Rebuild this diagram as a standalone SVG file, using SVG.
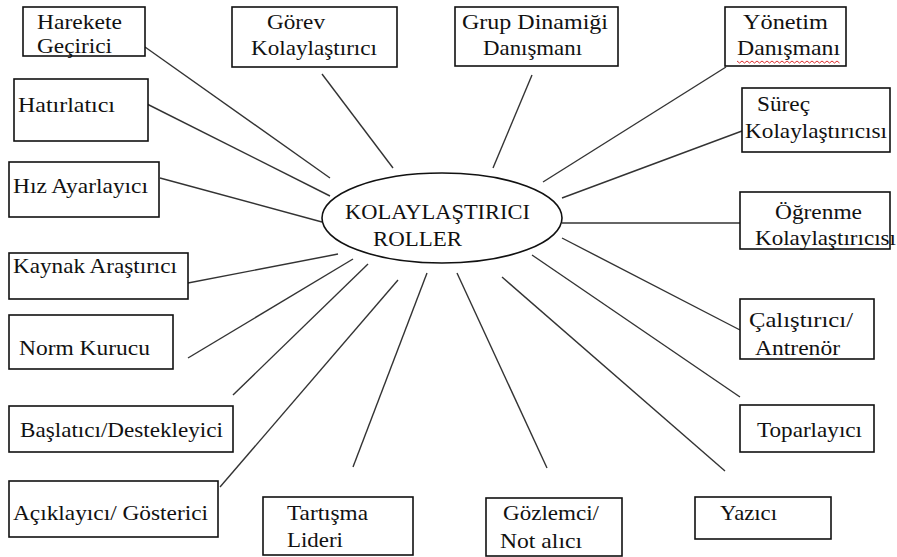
<svg xmlns="http://www.w3.org/2000/svg" width="897" height="557" viewBox="0 0 897 557" font-family="'Liberation Serif', 'DejaVu Serif', 'Times New Roman', serif">
<style>
.box{fill:#fff;stroke:#111;stroke-width:1.6}
.t{font-family:'Liberation Serif','DejaVu Serif',serif;font-size:22px;fill:#111}
.c{stroke:#333;stroke-width:1.4;fill:none}
</style>
<rect width="897" height="557" fill="#fff"/>
<g id="connectors">
<line class="c" x1="145" y1="47" x2="330" y2="178"/>
<line class="c" x1="145" y1="103" x2="330" y2="196"/>
<line class="c" x1="322" y1="74" x2="393" y2="168"/>
<line class="c" x1="160" y1="178" x2="322" y2="222"/>
<line class="c" x1="188" y1="283" x2="338" y2="254"/>
<line class="c" x1="188" y1="358" x2="353" y2="259"/>
<line class="c" x1="233" y1="395" x2="368" y2="264"/>
<line class="c" x1="220" y1="487" x2="398" y2="280"/>
<line class="c" x1="353" y1="467" x2="427" y2="273"/>
<line class="c" x1="547" y1="468" x2="457" y2="273"/>
<line class="c" x1="725" y1="471" x2="502" y2="277"/>
<line class="c" x1="740" y1="397" x2="532" y2="255"/>
<line class="c" x1="740" y1="330" x2="562" y2="238"/>
<line class="c" x1="562" y1="223" x2="740" y2="223"/>
<line class="c" x1="562" y1="198" x2="742" y2="131"/>
<line class="c" x1="726" y1="67" x2="543" y2="182"/>
<line class="c" x1="532" y1="75" x2="493" y2="168"/>
</g>
<g id="center">
<ellipse cx="442" cy="218" rx="120" ry="45" fill="#fff" stroke="#111" stroke-width="1.6"/>
<text class="t" x="345" y="219" textLength="185" lengthAdjust="spacingAndGlyphs">KOLAYLAŞTIRICI</text>
<text class="t" x="373" y="246" textLength="89" lengthAdjust="spacingAndGlyphs">ROLLER</text>
</g>
<g id="harekete">
<rect class="box" x="23" y="7" width="122" height="49"/>
<text class="t" x="37" y="29" textLength="85" lengthAdjust="spacingAndGlyphs">Harekete</text>
<text class="t" x="37" y="53" textLength="75" lengthAdjust="spacingAndGlyphs">Geçirici</text>
</g>
<g id="gorev">
<rect class="box" x="232" y="7" width="165" height="60"/>
<text class="t" x="267" y="29" textLength="58" lengthAdjust="spacingAndGlyphs">Görev</text>
<text class="t" x="251" y="55" textLength="126" lengthAdjust="spacingAndGlyphs">Kolaylaştırıcı</text>
</g>
<g id="grup">
<rect class="box" x="455" y="7" width="163" height="59"/>
<text class="t" x="462" y="29" textLength="146" lengthAdjust="spacingAndGlyphs">Grup Dinamiği</text>
<text class="t" x="483" y="55" textLength="99" lengthAdjust="spacingAndGlyphs">Danışmanı</text>
</g>
<g id="yonetim">
<rect class="box" x="725" y="7" width="121" height="59"/>
<text class="t" x="743" y="29" textLength="85" lengthAdjust="spacingAndGlyphs">Yönetim</text>
<text class="t" x="737" y="55" textLength="103" lengthAdjust="spacingAndGlyphs">Danışmanı</text>
<polyline points="737,61 739.5,63 742,61 744.5,63 747,61 749.5,63 752,61 754.5,63 757,61 759.5,63 762,61 764.5,63 767,61 769.5,63 772,61 774.5,63 777,61 779.5,63 782,61 784.5,63 787,61 789.5,63 792,61 794.5,63 797,61 799.5,63 802,61 804.5,63 807,61 809.5,63 812,61 814.5,63 817,61 819.5,63 822,61 824.5,63 827,61 829.5,63 832,61 834.5,63 837,61 839.5,63" fill="none" stroke="#e03030" stroke-width="1"/>
</g>
<g id="hatirlatici">
<rect class="box" x="14" y="79" width="134" height="62"/>
<text class="t" x="18" y="112" textLength="97" lengthAdjust="spacingAndGlyphs">Hatırlatıcı</text>
</g>
<g id="surec">
<rect class="box" x="742" y="88" width="148" height="64"/>
<text class="t" x="757" y="111" textLength="53" lengthAdjust="spacingAndGlyphs">Süreç</text>
<text class="t" x="745" y="138" textLength="142" lengthAdjust="spacingAndGlyphs">Kolaylaştırıcısı</text>
</g>
<g id="hiz">
<rect class="box" x="9" y="162" width="150" height="55"/>
<text class="t" x="13" y="193" textLength="135" lengthAdjust="spacingAndGlyphs">Hız Ayarlayıcı</text>
</g>
<g id="ogrenme">
<rect class="box" x="740" y="192" width="150" height="57"/>
<text class="t" x="775" y="219" textLength="87" lengthAdjust="spacingAndGlyphs">Öğrenme</text>
<text class="t" x="755" y="245" textLength="141" lengthAdjust="spacingAndGlyphs">Kolaylaştırıcısı</text>
</g>
<g id="kaynak">
<rect class="box" x="9" y="253" width="179" height="46"/>
<text class="t" x="13" y="273" textLength="164" lengthAdjust="spacingAndGlyphs">Kaynak Araştırıcı</text>
</g>
<g id="calistirici">
<rect class="box" x="740" y="299" width="134" height="60"/>
<text class="t" x="749" y="327" textLength="104" lengthAdjust="spacingAndGlyphs">Çalıştırıcı/</text>
<text class="t" x="755" y="355" textLength="85" lengthAdjust="spacingAndGlyphs">Antrenör</text>
</g>
<g id="norm">
<rect class="box" x="9" y="315" width="164" height="54"/>
<text class="t" x="19" y="355" textLength="131" lengthAdjust="spacingAndGlyphs">Norm Kurucu</text>
</g>
<g id="baslatici">
<rect class="box" x="9" y="406" width="224" height="46"/>
<text class="t" x="20" y="437" textLength="203" lengthAdjust="spacingAndGlyphs">Başlatıcı/Destekleyici</text>
</g>
<g id="toparlayici">
<rect class="box" x="740" y="405" width="134" height="47"/>
<text class="t" x="757" y="437" textLength="105" lengthAdjust="spacingAndGlyphs">Toparlayıcı</text>
</g>
<g id="aciklayici">
<rect class="box" x="9" y="481" width="209" height="56"/>
<text class="t" x="13" y="520" textLength="195" lengthAdjust="spacingAndGlyphs">Açıklayıcı/ Gösterici</text>
</g>
<g id="tartisma">
<rect class="box" x="263" y="497" width="150" height="58"/>
<text class="t" x="287" y="520" textLength="81" lengthAdjust="spacingAndGlyphs">Tartışma</text>
<text class="t" x="287" y="547" textLength="56" lengthAdjust="spacingAndGlyphs">Lideri</text>
</g>
<g id="gozlemci">
<rect class="box" x="486" y="498" width="136" height="58"/>
<text class="t" x="503" y="520" textLength="96" lengthAdjust="spacingAndGlyphs">Gözlemci/</text>
<text class="t" x="500" y="548" textLength="82" lengthAdjust="spacingAndGlyphs">Not alıcı</text>
</g>
<g id="yazici">
<rect class="box" x="695" y="497" width="136" height="42"/>
<text class="t" x="720" y="520" textLength="57" lengthAdjust="spacingAndGlyphs">Yazıcı</text>
</g>
</svg>
